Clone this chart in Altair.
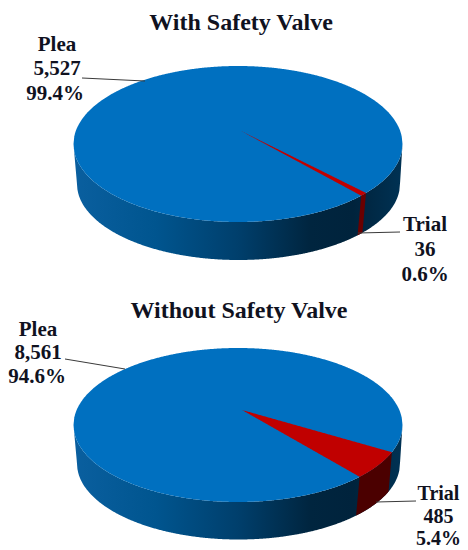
import altair as alt
import numpy as np
import pandas as pd

# ---- values
titles = ["With Safety Valve", "Without Safety Valve"]
plea_counts = [5527, 8561]
trial_counts = [36, 485]
plea_labels = ["Plea", "5,527", "99.4%", "Plea", "8,561", "94.6%"]
trial_labels = ["Trial", "36", "0.6%", "Trial", "485", "5.4%"]

# ---- picture layout (domain units are page pixels)
CX, RX, CX2, RX2 = 238.0, 164.5, 238.5, 161.5
CY = [144.0, 425.0]
RY = [78.0, 77.0]
DEPTH = [40.0, 38.5]
RY2 = [76.0, 76.0]
APEX = [(241.0, 131.0), (242.0, 410.0)]
LEAD_T = [41.5, 42.3]       # ellipse angle of the wedge's leading edge
PERSP = 1.12                # sweep stretch of the tilted disc
FONT = "Liberation Serif"
INK = "#10121f"
FACE_BLUE, FACE_RED = "#0070c0", "#c00000"
SIDE_RED = ["#6a0000", "#4b0000"]

X_SCALE = alt.Scale(domain=[8, 460], nice=False, zero=False)
Y_SCALE = alt.Scale(domain=[550, 8], nice=False, zero=False)
X = alt.X("x:Q", scale=X_SCALE, axis=None)
Y = alt.Y("y:Q", scale=Y_SCALE, axis=None)


def band(xs, upper, lower):
    return pd.DataFrame({"x": xs, "y": upper, "y0": lower})


def area(df, color):
    return alt.Chart(df).mark_area(color=color, strokeWidth=0, opacity=1).encode(
        x=X, y=Y, y2="y0:Q"
    )


def polyline(points, xs):
    pts = sorted(points)
    return np.interp(xs, [p[0] for p in pts], [p[1] for p in pts])


def pie(i):
    cy, ry, ry2, depth = CY[i], RY[i], RY2[i], DEPTH[i]
    cy2 = cy + depth
    share = trial_counts[i] / (trial_counts[i] + plea_counts[i])
    t2 = np.radians(LEAD_T[i])
    t1 = t2 - np.radians(360 * share * PERSP)

    def top(t):
        return CX + RX * np.cos(t), cy + ry * np.sin(t)

    def bot(t):
        t = t + np.radians(1.0)
        return CX2 + RX2 * np.cos(t), cy2 + ry2 * np.sin(t)

    layers = []
    xs = np.linspace(CX - RX, CX + RX, 420)
    u = np.clip((xs - CX) / RX, -1, 1)
    half = ry * np.sqrt(1 - u ** 2)
    u2 = np.clip((xs - CX2) / RX2, -1, 1)
    lower2 = cy2 + ry2 * np.sqrt(1 - u2 ** 2)
    # tangent flanks between the two rims
    lower2 = np.where(xs < CX2 - RX2, np.interp(xs, [CX - RX, CX2 - RX2], [cy, cy2]), lower2)
    lower2 = np.where(xs > CX2 + RX2, np.interp(xs, [CX2 + RX2, CX + RX], [cy2, cy]), lower2)

    side = alt.Gradient(
        gradient="linear", x1=0, x2=1, y1=0, y2=0,
        stops=[
            alt.GradientStop(color="#0a5f9f", offset=0.0),
            alt.GradientStop(color="#00558f", offset=0.25),
            alt.GradientStop(color="#003f6c", offset=0.5),
            alt.GradientStop(color="#00253f", offset=0.72),
            alt.GradientStop(color="#00233c", offset=0.85),
            alt.GradientStop(color="#003254", offset=1.0),
        ],
    )
    layers.append(area(band(xs, cy + half, lower2), side))
    layers.append(area(band(xs, cy - half, cy + half), FACE_BLUE))

    # coloured wall of the small slice
    ts = np.linspace(t1, t2, 40)
    tx, ty = top(ts)
    bx, by = bot(ts)
    wx = np.unique(np.concatenate([tx, bx]))
    rim = list(zip(tx, ty)) + [(bx[-1], by[-1])]
    foot = list(zip(bx, by)) + [(tx[0], ty[0])]
    layers.append(area(band(wx, polyline(rim, wx), polyline(foot, wx)), SIDE_RED[i]))

    # top of the small slice
    ax, ay = APEX[i]
    fx = np.unique(np.concatenate([np.linspace(ax, tx.max(), 200), tx]))
    edge_up = [(ax, ay), (tx[0], ty[0])]
    edge_lo = [(ax, ay)] + list(zip(tx, ty))
    layers.append(area(band(fx, polyline(edge_up, fx), polyline(edge_lo, fx)), FACE_RED))
    return layers


def leader(x0, y0, x1, y1):
    df = pd.DataFrame({"x": [x0, x1], "y": [y0, y1]})
    return alt.Chart(df).mark_line(color="#3a3a3a", strokeWidth=1).encode(x=X, y=Y)


def texts(items, size, weight="bold"):
    df = pd.DataFrame(items, columns=["x", "y", "t"])
    return alt.Chart(df).mark_text(
        font=FONT, fontSize=size, fontWeight=weight, color=INK, align="center", baseline="middle"
    ).encode(x=X, y=Y, text="t:N")


label_items = [
    (57, 45, plea_labels[0]), (57, 69, plea_labels[1]), (55, 94, plea_labels[2]),
    (425, 225, trial_labels[0]), (425, 250, trial_labels[1]), (425, 275, trial_labels[2]),
    (38, 330, plea_labels[3]), (38, 353, plea_labels[4]), (37, 377, plea_labels[5]),
]
edge_items = [
    (438.5, 494, trial_labels[3]), (438.5, 517, trial_labels[4]), (438.5, 539, trial_labels[5]),
]
title_items = [(241, 23, titles[0]), (239, 311, titles[1])]

layers = pie(0) + pie(1) + [
    leader(82, 78, 145, 81),
    leader(358, 233, 400, 232),
    leader(65, 359, 125, 369),
    leader(376, 502, 416, 501),
    texts(label_items, 21),
    texts(edge_items, 20),
    texts(title_items, 24),
]

chart = alt.layer(*layers).properties(
    width=452, height=542, padding=0, background="#ffffff",
    autosize=alt.AutoSizeParams(type="none"),
).configure_view(strokeWidth=0)

chart.save("out.html", embed_options={"renderer": "svg", "actions": False})
